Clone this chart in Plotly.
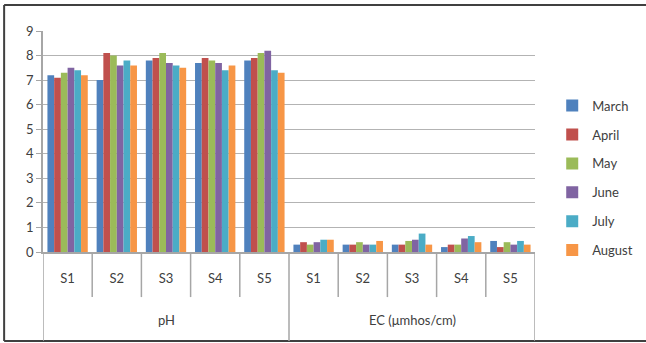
import plotly.graph_objects as go

groups = ["pH", "EC (μmhos/cm)"]
sites = ["S1", "S2", "S3", "S4", "S5"]
months = ["March", "April", "May", "June", "July", "August"]
colors = ["#4F81BD", "#C0504D", "#9BBB59", "#8064A2", "#4BACC6", "#F79646"]

# values per month: pH S1..S5 then EC S1..S5
march = [7.2, 7.0, 7.8, 7.7, 7.8, 0.3, 0.3, 0.3, 0.2, 0.45]
april = [7.1, 8.1, 7.9, 7.9, 7.9, 0.4, 0.3, 0.3, 0.3, 0.2]
may = [7.3, 8.0, 8.1, 7.8, 8.1, 0.3, 0.4, 0.45, 0.3, 0.4]
june = [7.5, 7.6, 7.7, 7.7, 8.2, 0.4, 0.3, 0.5, 0.55, 0.3]
july = [7.4, 7.8, 7.6, 7.4, 7.4, 0.5, 0.3, 0.75, 0.65, 0.45]
august = [7.2, 7.6, 7.5, 7.6, 7.3, 0.5, 0.45, 0.3, 0.4, 0.3]
series = [march, april, may, june, july, august]

labels = sites * len(groups)
xs = list(range(len(labels)))

font = dict(family="Lato, 'Open Sans', sans-serif", size=13, color="#404040")

fig = go.Figure()
for i, (m, vals) in enumerate(zip(months, series)):
    fig.add_trace(go.Bar(x=xs, y=vals, name=m, marker=dict(color=colors[i], line=dict(width=0)),
                         legendgroup=m))

shapes = []
n = len(labels)
for b in range(n + 1):
    full = (b % len(sites) == 0)
    shapes.append(dict(type="line", xref="x", yref="paper", x0=b - 0.5, x1=b - 0.5,
                       y0=0, y1=-0.403 if full else -0.204,
                       line=dict(color="#a6a6a6", width=1.5)))
# outer chart border: left, top and bottom edges (right edge lies outside the picture)
border = dict(color="#404040", width=2)
shapes.append(dict(type="line", xref="paper", yref="paper", x0=-0.079, x1=-0.079, y0=-0.403, y1=1.118,
                   line=border, layer="below"))
shapes.append(dict(type="line", xref="paper", yref="paper", x0=-0.079, x1=1.3, y0=1.118, y1=1.118,
                   line=border, layer="below"))
shapes.append(dict(type="line", xref="paper", yref="paper", x0=-0.079, x1=1.3, y0=-0.403, y1=-0.403,
                   line=border, layer="below"))

annotations = []
for g_i, g in enumerate(groups):
    annotations.append(dict(x=g_i * len(sites) + (len(sites) - 1) / 2, y=-0.308, xref="x", yref="paper",
                            text=g, showarrow=False, font=font, xanchor="center", yanchor="middle"))

fig.update_layout(
    width=646, height=343,
    margin=dict(l=43, r=111, t=31, b=91, autoexpand=False),
    paper_bgcolor="white", plot_bgcolor="white",
    barmode="group", bargap=0.18, bargroupgap=0,
    font=font,
    showlegend=True,
    legend=dict(x=1.035, y=0.73, xanchor="left", yanchor="top", tracegroupgap=9,
                font=font, bgcolor="rgba(0,0,0,0)"),
    xaxis=dict(range=[-0.5, n - 0.5], tickvals=xs, ticktext=labels, showgrid=False,
               showline=True, linecolor="#a6a6a6", linewidth=1.5, ticks="", zeroline=False,
               ticklabelstandoff=14, tickfont=font),
    yaxis=dict(range=[0, 9], dtick=1, showgrid=True, gridcolor="#b3b3b3", gridwidth=1,
               showline=True, linecolor="#a6a6a6", linewidth=1.5, ticks="outside", ticklen=5,
               tickcolor="#a6a6a6", zeroline=False, tickfont=font),
    shapes=shapes,
    annotations=annotations,
)

fig.write_html("out.html")
